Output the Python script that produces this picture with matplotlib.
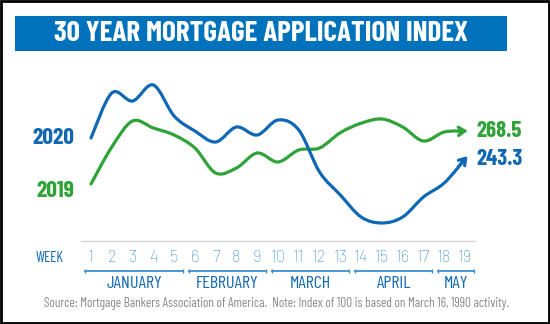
import numpy as np
import matplotlib
matplotlib.use('Agg')
import matplotlib.pyplot as plt
from matplotlib import font_manager as fm
from matplotlib.path import Path
from matplotlib.patches import PathPatch, Rectangle

# weekly index values
weeks = np.arange(1, 20)
idx_2019 = [220.8, 254.1, 277.5, 271.2, 264.9, 253.2, 230.7, 235.2, 248.7, 240.6,
            251.4, 253.2, 267.0, 275.5, 279.3, 272.1, 259.5, 267.6, 268.5]
idx_2020 = [262.2, 302.7, 295.5, 309.9, 282.0, 268.5, 258.6, 272.1, 264.9, 278.4,
            269.4, 231.6, 210.9, 191.1, 185.7, 191.1, 209.1, 221.7, 243.3]
months = ["JANUARY", "FEBRUARY", "MARCH", "APRIL", "MAY"]
month_first = [1, 6, 10, 14, 18]
month_last = [5, 9, 13, 17, 19]

BLUE = "#1068b4"
GREEN = "#2fa338"
LBLUE = "#3b8fd2"

# condensed face if there is one, else plain DejaVu a bit smaller
have = {f.name for f in fm.fontManager.ttflist}
if "Barlow Condensed" in have:
    COND, K = ["Barlow Condensed", "DejaVu Sans"], 1.0
else:
    COND, K = ["DejaVu Sans"], 0.72
LIGHT = ["Barlow", "DejaVu Sans"] if "Barlow" in have else ["DejaVu Sans"]


def smooth_path(x, y):
    # Catmull-Rom through the points, drawn as cubic bezier segments
    p = np.column_stack([x, y]).astype(float)
    pts = np.vstack([p[0], p, p[-1]])
    verts = [p[0]]
    codes = [Path.MOVETO]
    for i in range(1, len(pts) - 2):
        c1 = pts[i] + (pts[i + 1] - pts[i - 1]) / 6
        c2 = pts[i + 1] - (pts[i + 2] - pts[i]) / 6
        verts += [c1, c2, pts[i + 1]]
        codes += [Path.CURVE4] * 3
    return Path(verts, codes)


fig = plt.figure(figsize=(5.5, 3.24), dpi=100)
W, H = 550, 324

# outer frame
fig.patches.append(Rectangle((0.001, 0.002), 0.997, 0.995, transform=fig.transFigure,
                             fill=False, ec="black", lw=2))
# title bar
fig.patches.append(Rectangle((15 / W, 1 - 51 / H), 492 / W, 35 / H, transform=fig.transFigure,
                             fc="#0072bc", ec="none"))
fig.text(261 / W, 1 - 33.5 / H, "30 YEAR MORTGAGE APPLICATION INDEX", color="white",
         fontsize=21 * K, fontweight="bold", family=COND, ha="center", va="center")

ax = fig.add_axes([80.6 / W, (H - 232) / H, 394.8 / W, 162 / H])
ax.set_xlim(0.5, 19.5)
ax.set_ylim(177.6, 323.4)
ax.axis("off")

for vals, col in [(idx_2019, GREEN), (idx_2020, BLUE)]:
    ax.add_patch(PathPatch(smooth_path(weeks, vals), fc="none", ec=col, lw=2.3,
                           capstyle="round", joinstyle="round"))
    ax.annotate("", xy=(weeks[-1] + 0.12, vals[-1] + 0.12 * (vals[-1] - vals[-2])),
                xytext=(weeks[-1] - 0.3, vals[-1] - 0.3 * (vals[-1] - vals[-2])),
                arrowprops=dict(arrowstyle="->,head_length=0.45,head_width=0.3",
                                color=col, lw=2.3, shrinkA=0, shrinkB=0))

ax.text(0.5 - 0.3, idx_2020[0], "2020", color=BLUE, fontsize=17 * K, fontweight="bold",
        family=COND, ha="right", va="center")
ax.text(0.5 - 0.3, idx_2019[0] - 6, "2019", color=GREEN, fontsize=17 * K, fontweight="bold",
        family=COND, ha="right", va="center")
ax.text(weeks[-1] + 0.55, idx_2019[-1], "%.1f" % idx_2019[-1], color=GREEN, fontsize=16.5 * K,
        fontweight="bold", family=COND, ha="left", va="center")
ax.text(weeks[-1] + 0.55, idx_2020[-1], "%.1f" % idx_2020[-1], color=BLUE, fontsize=16.5 * K,
        fontweight="bold", family=COND, ha="left", va="center")

# week axis
tr = ax.get_xaxis_transform()
ax.plot([0.5, 19.5], [-0.0556, -0.0556], transform=tr, color="#d5d5d5", lw=1, clip_on=False)
ax.text(-1.0, -0.16, "WEEK", transform=tr, color=BLUE, fontsize=10.5 * K, family=COND,
        ha="center", va="center")
for w in weeks:
    ax.text(w, -0.16, str(w), transform=tr, color=LBLUE, fontsize=12 * K, family=LIGHT,
            fontweight="light", ha="center", va="center")
for name, a, b in zip(months, month_first, month_last):
    x0, x1 = a - 0.28, b + 0.42
    ax.plot([x0, x1], [-0.24, -0.24], transform=tr, color=LBLUE, lw=1.3, clip_on=False,
            marker="|", markersize=3, markevery=[0, 1])
    ax.text((x0 + x1) / 2, -0.32, name, transform=tr, color=BLUE, fontsize=13 * K,
            family=COND, ha="center", va="center")

fig.text(276 / W, 1 - 303 / H,
         "Source: Mortgage Bankers Association of America.  Note: Index of 100 is based on March 16, 1990 activity.",
         color="#8a8a8a", fontsize=9.5 * K, family=COND, ha="center", va="center")

fig.savefig("out.png", dpi=100)
